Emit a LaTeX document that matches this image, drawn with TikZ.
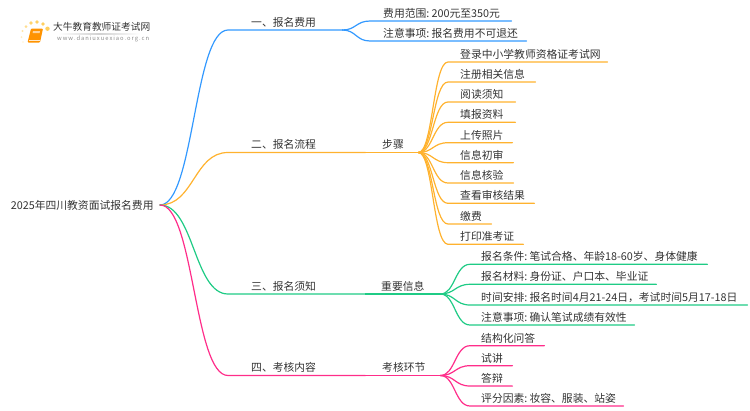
\documentclass[tikz,border=0pt]{standalone}
\usepackage{fontspec}
\setmainfont{Noto Sans CJK SC}
\definecolor{cb}{HTML}{3399FF}
\definecolor{co}{HTML}{FFB22E}
\definecolor{cg}{HTML}{1FCB85}
\definecolor{cp}{HTML}{FF2D8A}
\definecolor{ct}{HTML}{333333}
\definecolor{dotc}{HTML}{FFCC55}
\newcommand{\sep}{:\hspace{2.2pt}}
\tikzset{
  tx/.style={inner sep=0pt,anchor=south west,text height=11pt,text depth=3.5pt,align=left,text=ct,font=\fontsize{10.8}{13}\selectfont},
  conn/.style={line width=1.2pt,line cap=round},
  rootbox/.style={inner sep=0pt,anchor=east,text=ct,font=\fontsize{10.8}{13}\selectfont},
}
\begin{document}
\begin{tikzpicture}[x=1pt,y=-1pt]
\useasboundingbox (0,0) rectangle (750,410);
% logo
\foreach \px/\py/\rad/\opa in {23/42/0.8/.25,21.5/37/1/.35,22.5/31/1.2/.5,26/26.5/1.5/.65,31/23/1.8/.85,37/22/1.9/.9,43/24/1.9/.95,47.5/28.7/2.2/.95}
  \fill[dotc,opacity=\opa] (\px,\py) circle (\rad);
\fill[orange!85!yellow,rounded corners=1pt] (31,28.5) -- (43,28.5) -- (40,42.5) -- (27.5,42.5) -- cycle;
\draw[white,line width=.5pt,opacity=.8] (28.5,40.5) -- (39.8,40.5);
\fill[white,opacity=.6] (33,31) -- (40,31) -- (39.6,33) -- (32.6,33) -- cycle;
\shade[left color=white,right color=white,middle color=black!18] (58,33) rectangle (140,34);
\node[inner sep=0pt,anchor=west,text=ct,font=\fontsize{9.7}{12}\selectfont] (logoa) at (53,27) {大牛教育教师证考试网};
\node[inner sep=0pt,anchor=west,text=black!45,font=\fontsize{5.8}{8}\selectfont] (logob) at (57,39) {w\,w\,w\,.\,d\,a\,n\,i\,u\,x\,u\,e\,x\,i\,a\,o\,.\,o\,r\,g\,.\,c\,n};
% root
\node[rootbox,align=left,text width=149pt] (root) at (160,205) {2025年四川教资面试报名费用};
% blue
\node[tx,text width=114pt] (a) at (228,30) {\hspace*{23pt}一、报名费用};
\draw[conn,cb] (root.east) .. controls (194,205) and (194,30) .. (a.south west) -- (a.south east);
\node[tx,text width=141pt] (a1) at (370,21) {\mbox{\hspace*{13pt}费用范围\sep 200元至350元}};
\node[tx,text width=156pt] (a2) at (370,41) {\mbox{\hspace*{13pt}注意事项\sep 报名费用不可退还}};
\foreach \cname/\yy in {a1/21,a2/41}
  \draw[conn,cb] (a.south east) .. controls (356,30) and (356,\yy) .. (\cname.south west) -- (\cname.south east);
% orange
\node[tx,text width=137pt] (b) at (228,152.5) {\hspace*{23pt}二、报名流程};
\draw[conn,co] (root.east) .. controls (194,205) and (194,152.5) .. (b.south west) -- (b.south east);
\node[tx,text width=53pt] (bb) at (365,152.5) {\hspace*{17pt}步骤};
\draw[conn,co] (b.south east) -- (bb.south west) -- (bb.south east);
\foreach \nn/\yy/\ee/\lb in {
  b1/62/607/登录中小学教师资格证考试网,
  b2/82/535/注册相关信息,
  b3/102/515/阅读须知,
  b4/122.3/515/填报资料,
  b5/142.7/512/上传照片,
  b6/162.7/513/信息初审,
  b7/183/513/信息核验,
  b8/203.3/534/查看审核结果,
  b9/224/491/缴费,
  b10/244.3/523/打印准考证}{
  \pgfmathsetmacro{\bw}{\ee-448}
  \node[tx,text width=\bw pt] (\nn) at (448,\yy) {\hspace*{12pt}\lb};
  \draw[conn,co] (bb.south east) .. controls (433,152.5) and (433,\yy) .. (\nn.south west) -- (\nn.south east);
}
% green
\node[tx,text width=137pt] (c) at (228,294) {\hspace*{23pt}三、报名须知};
\draw[conn,cg] (root.east) .. controls (194,205) and (194,294) .. (c.south west) -- (c.south east);
\node[tx,text width=75pt] (cc) at (365,294) {\hspace*{16pt}重要信息};
\draw[conn,cg] (c.south east) -- (cc.south west) -- (cc.south east);
\foreach \nn/\yy/\ee/\lb in {
  c1/264.3/707/{报名条件\sep 笔试合格、年龄18-60岁、身体健康},
  c2/284.3/656/{报名材料\sep 身份证、户口本、毕业证},
  c3/305/747/{时间安排\sep 报名时间4月21-24日，考试时间5月17-18日},
  c4/325/634/{注意事项\sep 确认笔试成绩有效性}}{
  \pgfmathsetmacro{\bw}{\ee-470}
  \node[tx,text width=\bw pt] (\nn) at (470,\yy) {\mbox{\hspace*{11pt}\lb}};
  \draw[conn,cg] (cc.south east) .. controls (455,294) and (455,\yy) .. (\nn.south west) -- (\nn.south east);
}
% pink
\node[tx,text width=137pt] (d) at (228,375.5) {\hspace*{23pt}四、考核内容};
\draw[conn,cp] (root.east) .. controls (194,205) and (194,375.5) .. (d.south west) -- (d.south east);
\node[tx,text width=75pt] (dd) at (365,375.5) {\hspace*{17pt}考核环节};
\draw[conn,cp] (d.south east) -- (dd.south west) -- (dd.south east);
\foreach \nn/\yy/\ee/\lb in {
  d1/345.7/544/结构化问答,
  d2/365.7/512/试讲,
  d3/386/512/答辩,
  d4/406/623/{评分因素\sep 妆容、服装、站姿}}{
  \pgfmathsetmacro{\bw}{\ee-470}
  \node[tx,text width=\bw pt] (\nn) at (470,\yy) {\mbox{\hspace*{11pt}\lb}};
  \draw[conn,cp] (dd.south east) .. controls (455,375.5) and (455,\yy) .. (\nn.south west) -- (\nn.south east);
}
\end{tikzpicture}
\end{document}
